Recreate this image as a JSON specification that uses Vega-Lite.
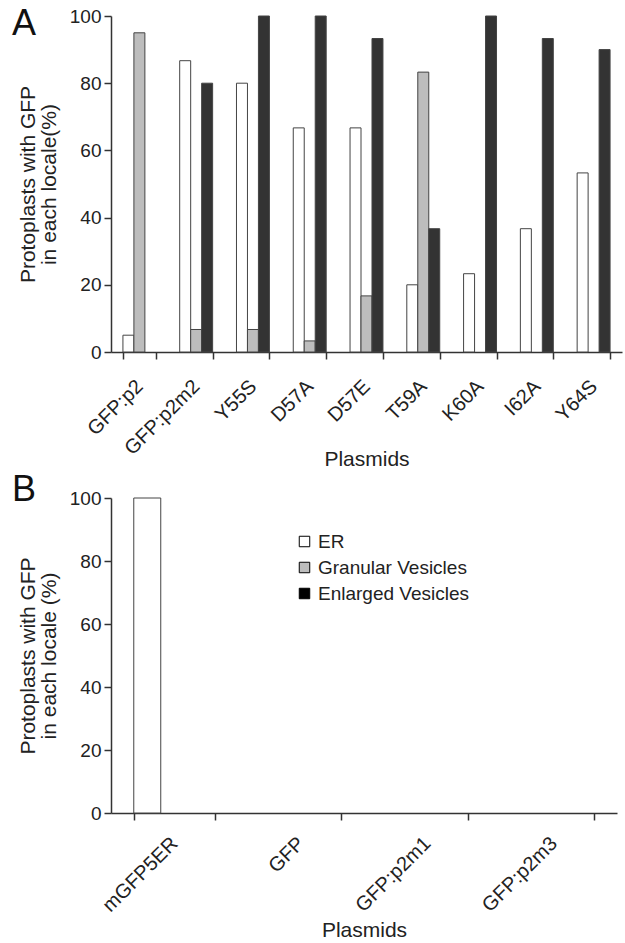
{
  "$schema": "https://vega.github.io/schema/vega-lite/v6.json",
  "padding": {"left": 12, "top": 6, "right": 3, "bottom": 2},
  "background": "white",
  "spacing": 2,
  "config": {
    "font": "Liberation Sans",
    "view": {"stroke": null},
    "axis": {
      "domainColor": "#333333",
      "domainWidth": 1.5,
      "tickColor": "#333333",
      "tickWidth": 1.5,
      "tickSize": 7,
      "labelColor": "#222222",
      "titleColor": "#222222",
      "labelFont": "Liberation Sans",
      "titleFont": "Liberation Sans",
      "labelFontSize": 19,
      "titleFontSize": 21,
      "titleFontWeight": "normal",
      "grid": false
    },
    "title": {"font": "Liberation Sans", "fontWeight": "normal", "color": "#111111"}
  },
  "resolve": {
    "scale": {"x": "independent", "y": "independent", "xOffset": "independent", "fill": "independent"},
    "legend": {"fill": "independent"}
  },
  "vconcat": [
    {
      "title": {"text": "A", "fontSize": 36, "anchor": "start", "frame": "group", "dx": -99, "dy": 36, "offset": 0},
      "width": 511,
      "height": 336,
      "data": {
        "values": [
          {"plasmid": "GFP:p2", "locale": "ER", "pct": 5},
          {"plasmid": "GFP:p2", "locale": "Granular Vesicles", "pct": 95},
          {"plasmid": "GFP:p2", "locale": "Enlarged Vesicles", "pct": 0},
          {"plasmid": "GFP:p2m2", "locale": "ER", "pct": 86.7},
          {"plasmid": "GFP:p2m2", "locale": "Granular Vesicles", "pct": 6.7},
          {"plasmid": "GFP:p2m2", "locale": "Enlarged Vesicles", "pct": 80},
          {"plasmid": "Y55S", "locale": "ER", "pct": 80},
          {"plasmid": "Y55S", "locale": "Granular Vesicles", "pct": 6.7},
          {"plasmid": "Y55S", "locale": "Enlarged Vesicles", "pct": 100},
          {"plasmid": "D57A", "locale": "ER", "pct": 66.7},
          {"plasmid": "D57A", "locale": "Granular Vesicles", "pct": 3.3},
          {"plasmid": "D57A", "locale": "Enlarged Vesicles", "pct": 100},
          {"plasmid": "D57E", "locale": "ER", "pct": 66.7},
          {"plasmid": "D57E", "locale": "Granular Vesicles", "pct": 16.7},
          {"plasmid": "D57E", "locale": "Enlarged Vesicles", "pct": 93.3},
          {"plasmid": "T59A", "locale": "ER", "pct": 20},
          {"plasmid": "T59A", "locale": "Granular Vesicles", "pct": 83.3},
          {"plasmid": "T59A", "locale": "Enlarged Vesicles", "pct": 36.7},
          {"plasmid": "K60A", "locale": "ER", "pct": 23.3},
          {"plasmid": "K60A", "locale": "Granular Vesicles", "pct": 0},
          {"plasmid": "K60A", "locale": "Enlarged Vesicles", "pct": 100},
          {"plasmid": "I62A", "locale": "ER", "pct": 36.7},
          {"plasmid": "I62A", "locale": "Granular Vesicles", "pct": 0},
          {"plasmid": "I62A", "locale": "Enlarged Vesicles", "pct": 93.3},
          {"plasmid": "Y64S", "locale": "ER", "pct": 53.3},
          {"plasmid": "Y64S", "locale": "Granular Vesicles", "pct": 0},
          {"plasmid": "Y64S", "locale": "Enlarged Vesicles", "pct": 90}
        ]
      },
      "transform": [{"filter": "datum.pct > 0"}],
      "mark": {"type": "bar", "stroke": "#444444", "strokeWidth": 1},
      "encoding": {
        "x": {
          "field": "plasmid", "type": "nominal",
          "sort": ["GFP:p2", "GFP:p2m2", "Y55S", "D57A", "D57E", "T59A", "K60A", "I62A", "Y64S"],
          "scale": {"domain": ["GFP:p2", "GFP:p2m2", "Y55S", "D57A", "D57E", "T59A", "K60A", "I62A", "Y64S"], "paddingInner": 0.42, "paddingOuter": 0.21},
          "axis": {"title": "Plasmids", "labelFontSize": 20, "labelAngle": -45, "labelAlign": "right", "labelBaseline": "middle", "labelPadding": 24, "tickBand": "extent", "titlePadding": -10}
        },
        "xOffset": {"field": "locale", "type": "nominal", "sort": ["ER", "Granular Vesicles", "Enlarged Vesicles"], "scale": {"domain": ["ER", "Granular Vesicles", "Enlarged Vesicles"]}},
        "y": {
          "field": "pct", "type": "quantitative",
          "scale": {"domain": [0, 100], "nice": false},
          "axis": {"values": [0, 20, 40, 60, 80, 100], "title": ["Protoplasts with GFP", "in each locale(%)"], "labelPadding": 3, "titlePadding": 10, "titleLineHeight": 21}
        },
        "fill": {
          "field": "locale", "type": "nominal",
          "scale": {"domain": ["ER", "Granular Vesicles", "Enlarged Vesicles"], "range": ["#ffffff", "#bdbdbd", "#333333"]},
          "legend": null
        }
      }
    },
    {
      "title": {"text": "B", "fontSize": 36, "anchor": "start", "frame": "group", "dx": -99, "dy": 20, "offset": 0},
      "width": 506,
      "height": 315,
      "data": {
        "values": [
          {"plasmid": "mGFP5ER", "locale": "ER", "pct": 100},
          {"plasmid": "mGFP5ER", "locale": "Granular Vesicles", "pct": 0},
          {"plasmid": "mGFP5ER", "locale": "Enlarged Vesicles", "pct": 0},
          {"plasmid": "GFP", "locale": "ER", "pct": 0},
          {"plasmid": "GFP", "locale": "Granular Vesicles", "pct": 0},
          {"plasmid": "GFP", "locale": "Enlarged Vesicles", "pct": 0},
          {"plasmid": "GFP:p2m1", "locale": "ER", "pct": 0},
          {"plasmid": "GFP:p2m1", "locale": "Granular Vesicles", "pct": 0},
          {"plasmid": "GFP:p2m1", "locale": "Enlarged Vesicles", "pct": 0},
          {"plasmid": "GFP:p2m3", "locale": "ER", "pct": 0},
          {"plasmid": "GFP:p2m3", "locale": "Granular Vesicles", "pct": 0},
          {"plasmid": "GFP:p2m3", "locale": "Enlarged Vesicles", "pct": 0}
        ]
      },
      "transform": [{"filter": "datum.pct > 0"}],
      "mark": {"type": "bar", "stroke": "#444444", "strokeWidth": 1},
      "encoding": {
        "x": {
          "field": "plasmid", "type": "nominal",
          "sort": ["mGFP5ER", "GFP", "GFP:p2m1", "GFP:p2m3"],
          "scale": {"domain": ["mGFP5ER", "GFP", "GFP:p2m1", "GFP:p2m3"], "paddingInner": 0.36, "paddingOuter": 0.18},
          "axis": {"title": "Plasmids", "labelFontSize": 20, "labelAngle": -45, "labelAlign": "right", "labelBaseline": "middle", "labelPadding": 20, "tickBand": "extent", "titlePadding": 4}
        },
        "xOffset": {"field": "locale", "type": "nominal", "sort": ["ER", "Granular Vesicles", "Enlarged Vesicles"], "scale": {"domain": ["ER", "Granular Vesicles", "Enlarged Vesicles"]}},
        "y": {
          "field": "pct", "type": "quantitative",
          "scale": {"domain": [0, 100], "nice": false},
          "axis": {"values": [0, 20, 40, 60, 80, 100], "title": ["Protoplasts with GFP", "in each locale (%)"], "labelPadding": 3, "titlePadding": 10, "titleLineHeight": 21}
        },
        "fill": {
          "field": "locale", "type": "nominal",
          "scale": {"domain": ["ER", "Granular Vesicles", "Enlarged Vesicles"], "range": ["#ffffff", "#bdbdbd", "#000000"]},
          "legend": {
            "title": null, "orient": "none", "legendX": 184, "legendY": 34,
            "symbolType": "square", "symbolSize": 110, "symbolStrokeColor": "#000000", "symbolStrokeWidth": 1,
            "labelFontSize": 19, "labelFont": "Liberation Sans", "labelColor": "#222222", "rowPadding": 6, "labelOffset": 4
          }
        }
      }
    }
  ]
}
